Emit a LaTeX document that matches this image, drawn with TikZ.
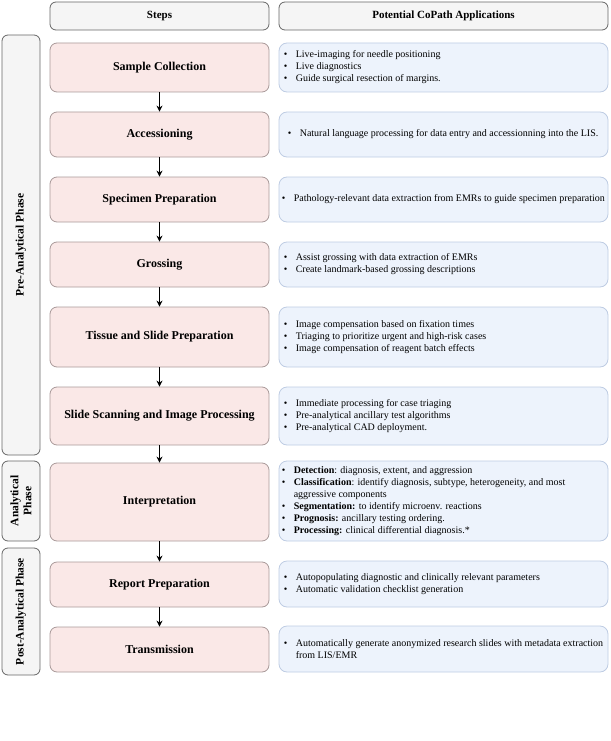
\documentclass[tikz,border=0pt]{standalone}
\usepackage{fontspec}
\setmainfont{Liberation Serif}
\usetikzlibrary{arrows.meta}
\definecolor{stepfill}{HTML}{FAE8E7}
\definecolor{stepdraw}{HTML}{A99A9A}
\definecolor{appfill}{HTML}{EDF3FC}
\definecolor{appdraw}{HTML}{BECCE3}
\definecolor{hdrfill}{HTML}{F5F5F5}
\definecolor{hdrdraw}{HTML}{666666}
\newcommand{\bl}{\makebox[12pt][l]{\textbullet}}
\newcommand{\hg}{\hspace*{12pt}}
\tikzset{
  hdrbox/.style={draw=hdrdraw, fill=hdrfill, line width=0.8pt, rounded corners=6pt,
    font=\bfseries\fontsize{11}{13}\selectfont, inner sep=0pt},
  phasebox/.style={draw=hdrdraw, fill=hdrfill, line width=0.8pt, rounded corners=6pt, inner sep=0pt},
  phaselabel/.style={rotate=90, align=center, font=\bfseries\fontsize{11.5}{13}\selectfont},
  stepbox/.style={draw=stepdraw, fill=stepfill, line width=0.8pt, rounded corners=7pt,
    minimum width=219pt, font=\bfseries\fontsize{12}{14}\selectfont, inner sep=0pt},
  appbox/.style={draw=appdraw, fill=appfill, line width=0.8pt, rounded corners=8pt,
    minimum width=329pt, inner sep=0pt},
  apptext/.style={anchor=west, align=left, inner sep=0pt, font=\fontsize{10}{12}\selectfont},
  arr/.style={-{Stealth[length=6pt,width=6pt]}, line width=0.9pt, black}
}
\begin{document}
\begin{tikzpicture}[x=1pt,y=-1pt]
\useasboundingbox (0,0) rectangle (610,741);
% headers
\node[hdrbox, minimum width=219pt, minimum height=28pt] (h1) at (159.5,16) {Steps};
\node[hdrbox, minimum width=329pt, minimum height=28pt] (h2) at (443.5,16) {Potential CoPath Applications};
% phases
\node[phasebox, minimum width=38pt, minimum height=420pt] (p1) at (21,245) {};
\node[phaselabel] (p1t) at (p1.center) {Pre-Analytical Phase};
\node[phasebox, minimum width=38pt, minimum height=80pt] (p2) at (21,501) {};
\node[phaselabel] (p2t) at (p2.center) {Analytical\\Phase};
\node[phasebox, minimum width=38pt, minimum height=127pt] (p3) at (21,611.5) {};
\node[phaselabel] (p3t) at (p3.center) {Post-Analytical Phase};
% steps
\node[stepbox, minimum height=49pt] (s1) at (159.5,67.5) {Sample Collection};
\node[stepbox, minimum height=45pt] (s2) at (159.5,134.5) {Accessioning};
\node[stepbox, minimum height=45pt] (s3) at (159.5,199.5) {Specimen Preparation};
\node[stepbox, minimum height=45pt] (s4) at (159.5,264.5) {Grossing};
\node[stepbox, minimum height=60pt] (s5) at (159.5,337) {Tissue and Slide Preparation};
\node[stepbox, minimum height=58pt] (s6) at (159.5,416) {Slide Scanning and Image Processing};
\node[stepbox, minimum height=78pt] (s7) at (159.5,502) {Interpretation};
\node[stepbox, minimum height=45pt] (s8) at (159.5,584.5) {Report Preparation};
\node[stepbox, minimum height=45pt] (s9) at (159.5,649.5) {Transmission};
% arrows
\foreach \a/\b in {s1/s2,s2/s3,s3/s4,s4/s5,s5/s6,s6/s7,s7/s8,s8/s9}
  \draw[arr] (\a.south) -- (\b.north);
% application boxes
\node[appbox, minimum height=49pt] (a1) at (443.5,67.5) {};
\node[appbox, minimum height=45pt] (a2) at (443.5,134.5) {};
\node[appbox, minimum height=45pt] (a3) at (443.5,199.5) {};
\node[appbox, minimum height=45pt] (a4) at (443.5,264.5) {};
\node[appbox, minimum height=60pt] (a5) at (443.5,337) {};
\node[appbox, minimum height=58pt] (a6) at (443.5,416) {};
\node[appbox, minimum height=80pt] (a7) at (443.5,501) {};
\node[appbox, minimum height=46pt] (a8) at (443.5,584) {};
\node[appbox, minimum height=46pt] (a9) at (443.5,649) {};
% application texts
\node[apptext] (a1t) at ([xshift=5pt]a1.west) {\bl Live-imaging for needle positioning\\\bl Live diagnostics\\\bl Guide surgical resection of margins.};
\node[apptext] (a2t) at ([xshift=9pt]a2.west) {\bl Natural language processing for data entry and accessionning into the LIS.};
\node[apptext] (a3t) at ([xshift=3pt]a3.west) {\bl Pathology-relevant data extraction from EMRs to guide specimen preparation};
\node[apptext] (a4t) at ([xshift=5pt]a4.west) {\bl Assist grossing with data extraction of EMRs\\\bl Create landmark-based grossing descriptions};
\node[apptext] (a5t) at ([xshift=5pt]a5.west) {\bl Image compensation based on fixation times\\\bl Triaging to prioritize urgent and high-risk cases\\\bl Image compensation of reagent batch effects};
\node[apptext] (a6t) at ([xshift=5pt]a6.west) {\bl Immediate processing for case triaging\\\bl Pre-analytical ancillary test algorithms\\\bl Pre-analytical CAD deployment.};
\node[apptext] (a7t) at ([xshift=3pt]a7.west) {\bl \textbf{Detection}: diagnosis, extent, and aggression\\\bl \textbf{Classification}: identify diagnosis, subtype, heterogeneity, and most\\\hg aggressive components\\\bl \textbf{Segmentation:} to identify microenv. reactions\\\bl \textbf{Prognosis:} ancillary testing ordering.\\\bl \textbf{Processing:} clinical differential diagnosis.*};
\node[apptext] (a8t) at ([xshift=5pt]a8.west) {\bl Autopopulating diagnostic and clinically relevant parameters\\\bl Automatic validation checklist generation};
\node[apptext] (a9t) at ([xshift=5pt]a9.west) {\bl Automatically generate anonymized research slides with metadata extraction\\\hg from LIS/EMR};
\end{tikzpicture}
\end{document}
